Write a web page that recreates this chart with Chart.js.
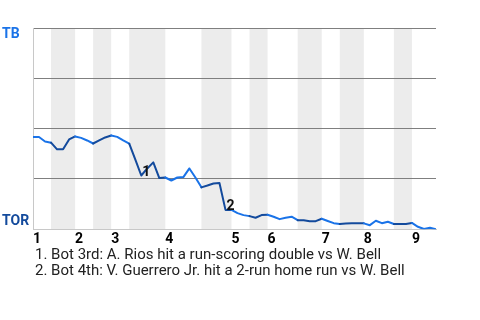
<!DOCTYPE html>
<html>
<head>
<meta charset="utf-8">
<script src="https://cdn.jsdelivr.net/npm/chart.js@4/dist/chart.umd.min.js"></script>
<style>
  html, body { margin: 0; padding: 0; background: #fff; }
  #wrap { width: 480px; height: 320px; position: relative; }
</style>
</head>
<body>
<div id="wrap"><canvas id="myChart"></canvas></div>
<script>
// TB win probability (%) after each plate appearance
const winProb = [
  45.8, 45.8, 43.6, 43.0, 39.7, 39.7, 44.6, 46.1, 45.4, 44.1,
  42.6, 44.1, 45.6, 46.6, 45.9, 44.1, 42.5, 34.7, 26.7, 30.2,
  33.2, 25.4, 25.7, 24.2, 25.7, 25.9, 30.2, 25.7, 20.8, 21.7,
  22.7, 23.0, 9.6, 9.6, 8.0, 7.0, 6.5, 5.7, 7.0, 7.2,
  6.2, 5.0, 5.7, 6.2, 4.5, 4.4, 3.9, 4.0, 5.2, 4.1,
  3.0, 2.6, 2.8, 2.9, 2.9, 2.9, 2.0, 4.2, 3.0, 3.7,
  2.6, 2.6, 2.6, 3.1, 1.2, 0.1, 0.7, 0
];

// plate appearance index where each half inning starts (top, bottom, top, ...)
const halfStarts = [0, 3, 7, 10, 13, 16, 22, 28, 33, 36, 39, 44, 48, 51, 55, 60, 63, 67];
const inningLabels = ["1", "2", "3", "4", "5", "6", "7", "8", "9"];

const eventIndex = [18, 32];
const eventLabels = ["1", "2"];
const eventNotes = [
  "1. Bot 3rd: A. Rios hit a run-scoring double vs W. Bell",
  "2. Bot 4th: V. Guerrero Jr. hit a 2-run home run vs W. Bell"
];

const teamTop = "TB";
const teamBottom = "TOR";

const LIGHT = "#1a73e8";
const DARK = "#134a9c";

function isBottomHalf(x) {
  for (let i = 1; i < halfStarts.length - 1; i += 2) {
    if (x >= halfStarts[i] && x < halfStarts[i + 1]) return true;
  }
  return false;
}

const inningStarts = halfStarts.filter((v, i) => i % 2 === 0).slice(0, inningLabels.length);

const bandsPlugin = {
  id: "bands",
  beforeDraw(chart) {
    const { ctx, chartArea, scales } = chart;
    ctx.save();
    ctx.fillStyle = "#ececec";
    for (let i = 1; i < halfStarts.length - 1; i += 2) {
      const x0 = scales.x.getPixelForValue(halfStarts[i]);
      const x1 = scales.x.getPixelForValue(halfStarts[i + 1]);
      ctx.fillRect(x0, chartArea.top, x1 - x0, chartArea.bottom - chartArea.top);
    }
    ctx.restore();
  }
};

const textPlugin = {
  id: "texts",
  afterDatasetsDraw(chart) {
    const { ctx, chartArea, scales } = chart;
    ctx.save();
    // team labels
    ctx.font = "bold 14px Roboto";
    ctx.textAlign = "left";
    ctx.textBaseline = "top";
    ctx.fillStyle = LIGHT;
    ctx.fillText(teamTop, 2, scales.y.getPixelForValue(100) - 1);
    ctx.textBaseline = "bottom";
    ctx.fillStyle = DARK;
    ctx.fillText(teamBottom, 2, scales.y.getPixelForValue(0) - 1);

    // event markers
    ctx.fillStyle = "#111";
    ctx.textBaseline = "middle";
    eventIndex.forEach((idx, i) => {
      const px = scales.x.getPixelForValue(idx);
      const py = scales.y.getPixelForValue(winProb[idx]);
      ctx.fillText(eventLabels[i], px + 1, py - 3);
    });

    // notes under the chart
    ctx.font = "15px Roboto";
    ctx.fillStyle = "#222";
    ctx.textBaseline = "alphabetic";
    eventNotes.forEach((t, i) => {
      ctx.fillText(t, 35, chartArea.bottom + 29.5 + i * 16);
    });
    ctx.restore();
  }
};

document.addEventListener("DOMContentLoaded", function () {
  const ctx = document.getElementById("myChart");
  new Chart(ctx, {
    type: "line",
    data: {
      labels: winProb.map((v, i) => i),
      datasets: [
        {
          data: winProb.map((v, i) => ({ x: i, y: v })),
          borderWidth: 2,
          pointRadius: 0,
          tension: 0,
          borderJoinStyle: "round",
          borderCapStyle: "round",
          borderColor: LIGHT,
          segment: {
            borderColor: (c) => (isBottomHalf(c.p0.parsed.x) ? DARK : LIGHT),
          },
        },
      ],
    },
    options: {
      responsive: true,
      maintainAspectRatio: false,
      animation: false,
      layout: {
        padding: { left: 33, right: 44, top: 28, bottom: 70 },
      },
      plugins: {
        legend: { display: false },
        tooltip: { enabled: false },
      },
      scales: {
        x: {
          type: "linear",
          min: 0,
          max: halfStarts[halfStarts.length - 1],
          afterBuildTicks: (axis) => {
            axis.ticks = inningStarts.map((v) => ({ value: v }));
          },
          grid: { display: false, drawTicks: false },
          border: { color: "#c8c8c8", width: 1 },
          ticks: {
            autoSkip: false,
            maxRotation: 0,
            align: "start",
            padding: 2,
            color: "#000",
            font: { family: "Roboto", size: 14, weight: "bold" },
            callback: function (value) {
              const i = inningStarts.indexOf(value);
              return i >= 0 ? inningLabels[i] : "";
            },
          },
        },
        y: {
          min: 0,
          max: 100,
          ticks: { display: false, stepSize: 25 },
          grid: {
            drawTicks: false,
            color: (c) => (c.tick.value === 0 ? "#c8c8c8" : "#7f7f7f"),
            lineWidth: 1,
          },
          border: { color: "#c8c8c8", width: 1 },
        },
      },
    },
    plugins: [bandsPlugin, textPlugin],
  });
});
</script>
</body>
</html>
